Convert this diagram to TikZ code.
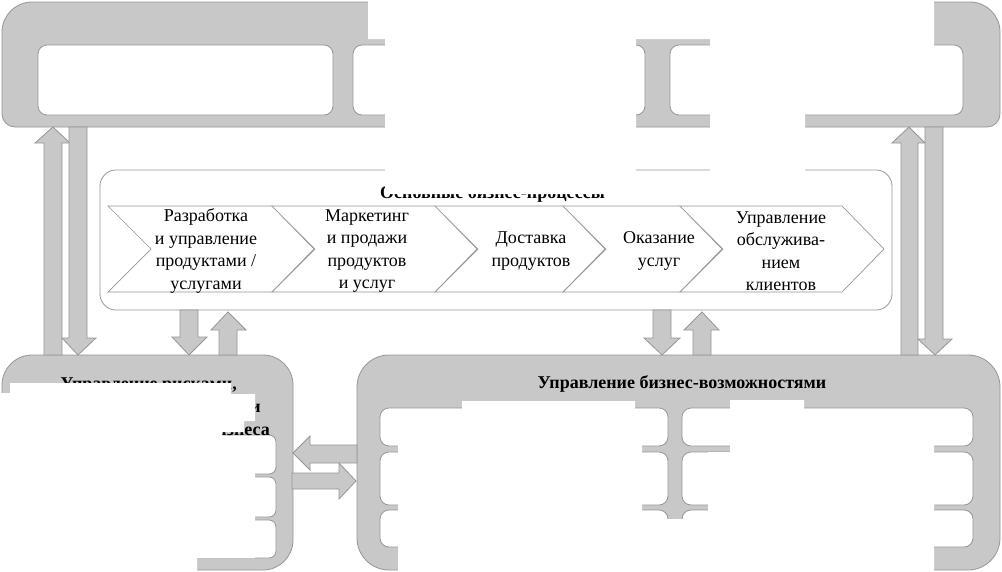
\documentclass[tikz,border=0pt]{standalone}
\usepackage{fontspec}
\setmainfont{Liberation Serif}
\definecolor{framegray}{RGB}{200,200,200}
\definecolor{edgegray}{RGB}{150,150,150}
\begin{document}
\begin{tikzpicture}[x=1pt,y=-1pt,
  frame/.style={fill=framegray,draw=edgegray,line width=0.8pt},
  ibox/.style={fill=white,draw=edgegray,line width=0.8pt,rounded corners=9pt},
  pbox/.style={fill=white,draw=edgegray,line width=0.8pt,rounded corners=16pt},
  barrow/.style={fill=framegray,draw=edgegray,line width=0.8pt},
  chev/.style={fill=white,draw=edgegray,line width=0.7pt},
  lbl/.style={font=\fontsize{18}{22.5}\selectfont,align=center,inner sep=0pt},
  ttl/.style={font=\fontsize{18}{22.5}\selectfont\bfseries,inner sep=0pt},
  redact/.style={fill=white,draw=none}]
\useasboundingbox (0,0) rectangle (1002,571);

% ---------- top frame ----------
\draw[frame] (2,60) [rounded corners=30pt] -- (2,2) -- (1000,2) -- (1000,60)
  [rounded corners=13pt] -- (1000,127) -- (2,127) -- cycle;
\draw[ibox] (38,45) rectangle (333,115);
\draw[ibox] (353,45) rectangle (645,115);
\draw[ibox] (670,45) rectangle (963,115);

% ---------- core processes ----------
\draw[pbox] (100,170) rectangle (892,310);
\foreach \s/\n in {108/272, 272/435, 435/563, 563/680, 680/842}
  \draw[chev] (\s,206) -- (\n,206) -- ({\n+42},249) -- (\n,292) -- (\s,292) -- ({\s+43},249) -- cycle;

\node[lbl] (p1) at (206,251) {Разработка\\и управление\\продуктами /\\услугами};
\node[lbl] (p2) at (367,251) {Маркетинг\\и продажи\\продуктов\\и услуг};
\node[lbl] (p3) at (531,251) {Доставка\\продуктов};
\node[lbl] (p4) at (659,251) {Оказание\\услуг};
\node[lbl] (p5) at (781,251) {Управление\\обслужива-\\нием\\клиентов};
\node[ttl,anchor=base west] (ptitle) at (380,198) {Основные бизнес-процессы};

% ---------- bottom frames ----------
\draw[frame,rounded corners=30pt] (2,355) rectangle (293,570);
\draw[ibox,rounded corners=7pt] (20,435) rectangle (276,474);
\draw[ibox,rounded corners=7pt] (20,477) rectangle (276,517);
\draw[ibox,rounded corners=7pt] (20,520) rectangle (276,558);

\draw[frame,rounded corners=32pt] (357,355) rectangle (1000,570);
\draw[ibox] (380,408) rectangle (668,446);
\draw[ibox] (682,408) rectangle (973,446);
\draw[ibox] (380,452) rectangle (668,505);
\draw[ibox] (682,452) rectangle (973,505);
\draw[ibox] (380,510) rectangle (668,547);
\draw[ibox] (682,510) rectangle (973,547);

\node[ttl] (btitle) at (682,384) {Управление бизнес-возможностями};
\node[ttl,anchor=base east] (r1) at (237,389) {Управление рисками,};
\node[ttl,anchor=base east] (r2) at (261,412) {и};
\node[ttl,anchor=base east] (r3) at (270,435) {бизнеса};

% ---------- block arrows ----------
% left pair
\draw[barrow] (53,127) -- (70,143) -- (62,143) -- (62,355) -- (44,355) -- (44,143) -- (35,143) -- cycle;
\draw[barrow] (69,127) -- (87,127) -- (87,338) -- (96,338) -- (78,355) -- (62,338) -- (69,338) -- cycle;
% right pair
\draw[barrow] (909,127) -- (925,143) -- (918,143) -- (918,355) -- (901,355) -- (901,143) -- (892,143) -- cycle;
\draw[barrow] (925,127) -- (943,127) -- (943,339) -- (952,339) -- (935,355) -- (918,339) -- (925,339) -- cycle;
% process <-> left frame
\draw[barrow] (180,310) -- (198,310) -- (198,337) -- (207,337) -- (189,355) -- (172,337) -- (180,337) -- cycle;
\draw[barrow] (228,312) -- (246,330) -- (237,330) -- (237,355) -- (219,355) -- (219,330) -- (211,330) -- cycle;
% process <-> right frame
\draw[barrow] (653,310) -- (671,310) -- (671,338) -- (680,338) -- (662,355) -- (644,338) -- (653,338) -- cycle;
\draw[barrow] (702,312) -- (719,330) -- (711,330) -- (711,355) -- (693,355) -- (693,330) -- (684,330) -- cycle;
% between bottom frames
\draw[barrow] (293,453) -- (310,436) -- (310,445) -- (357,445) -- (357,463) -- (310,463) -- (310,470) -- cycle;
\draw[barrow] (292,473) -- (339,473) -- (339,463) -- (356,481) -- (339,499) -- (339,489) -- (292,489) -- cycle;

% ---------- white masked areas ----------
\fill[redact] (368,-1) -- (934,-1) -- (934,112) -- (805,112) -- (805,176) -- (710,176)
  -- (710,39) -- (636,39) -- (636,194) -- (385,194) -- (385,39) -- (368,39) -- cycle;
\fill[redact] (-1,393) -- (10,393) -- (10,383) -- (231,383) -- (231,394) -- (255,394)
  -- (255,421) -- (244,421) -- (244,432) -- (222,432) -- (222,436) -- (255,436)
  -- (255,558) -- (197,558) -- (197,572) -- (-1,572) -- cycle;
\fill[redact] (462,401) -- (635,401) -- (635,412) -- (642,412) -- (642,519) -- (708,519)
  -- (708,452) -- (730,452) -- (730,400) -- (804,400) -- (804,412) -- (934,412)
  -- (934,572) -- (398,572) -- (398,412) -- (462,412) -- cycle;
\end{tikzpicture}
\end{document}
